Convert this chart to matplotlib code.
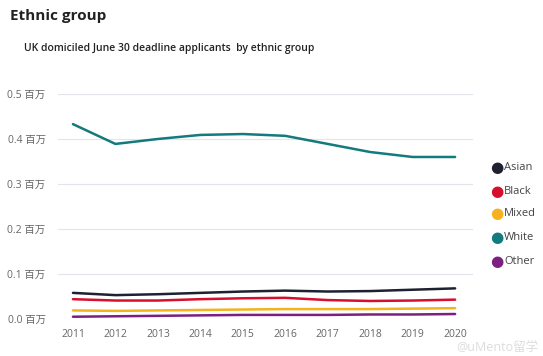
import numpy as np
import matplotlib.pyplot as plt

plt.rcParams['font.family'] = ['Open Sans', 'Noto Sans CJK SC', 'DejaVu Sans']

# data (millions of applicants)
years = [2011, 2012, 2013, 2014, 2015, 2016, 2017, 2018, 2019, 2020]
asian = [0.058, 0.053, 0.055, 0.058, 0.061, 0.063, 0.061, 0.062, 0.065, 0.068]
black = [0.044, 0.041, 0.041, 0.044, 0.046, 0.047, 0.042, 0.040, 0.041, 0.043]
mixed = [0.019, 0.018, 0.019, 0.020, 0.021, 0.022, 0.022, 0.022, 0.023, 0.024]
white = [0.433, 0.389, 0.400, 0.409, 0.411, 0.407, 0.389, 0.371, 0.360, 0.360]
other = [0.005, 0.006, 0.007, 0.008, 0.009, 0.009, 0.009, 0.010, 0.010, 0.011]

names = ['Asian', 'Black', 'Mixed', 'White', 'Other']
series = [asian, black, mixed, white, other]
colors = ['#1e2230', '#d50f2d', '#f5b21e', '#137a7d', '#7c1f80']
yticks = [0.0, 0.1, 0.2, 0.3, 0.4, 0.5]

fig = plt.figure(figsize=(5.43, 3.56), dpi=100)
ax = fig.add_axes([0.107, 0.104, 0.764, 0.632])

for vals, c in zip(series, colors):
    ax.plot(years, vals, color=c, linewidth=1.8, solid_capstyle='round')

ax.set_xlim(2010.65, 2020.42)
ax.set_ylim(0, 0.5)
ax.set_xticks(years)
ax.set_yticks(yticks)
ax.set_yticklabels(['%.1f 百万' % v for v in yticks])
ax.tick_params(length=0, colors='#666666', labelsize=7.5)
ax.tick_params(axis='x', pad=7)
ax.tick_params(axis='y', pad=9)
ax.grid(axis='y', color='#e4e2ea', linewidth=0.8)
ax.set_axisbelow(True)
for s in ax.spines.values():
    s.set_visible(False)

# legend on the right
leg_y = [167, 191, 214, 237, 261]
for name, c, y in zip(names, colors, leg_y):
    fy = 1 - y / 356
    fig.text(497 / 543, fy, '●', color=c, fontsize=11, ha='center', va='center',
             family=['DejaVu Sans'])
    fig.text(504 / 543, fy, name, color='#444444', fontsize=8, ha='left', va='center')

fig.text(10 / 543, 1 - 16 / 356, 'Ethnic group', fontsize=11, fontweight='bold',
         color='#222222', va='center')
fig.text(24 / 543, 1 - 48 / 356, 'UK domiciled June 30 deadline applicants  by ethnic group',
         fontsize=7.5, fontweight='semibold', color='#222222', va='center')

# faint watermark
fig.text(538 / 543, 1 - 347 / 356, '@uMento留学', fontsize=9, color='#dddddd',
         ha='right', va='center')

fig.savefig('out.png', dpi=100)
